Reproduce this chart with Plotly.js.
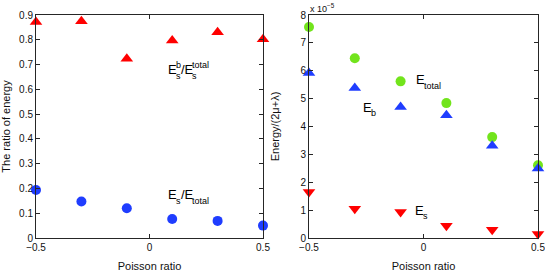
<!DOCTYPE html>
<html><head><meta charset="utf-8">
<script src="https://cdn.plot.ly/plotly-3.0.1.min.js"></script>
<style>html,body{margin:0;padding:0;background:#fff}#c{width:545px;height:274px}</style>
</head><body><div id="c"></div>
<script>
var poisson = [-0.5, -0.3, -0.1, 0.1, 0.3, 0.5];
// left panel: ratios
var ratioBending = [0.872, 0.875, 0.723, 0.797, 0.830, 0.802];
var ratioStretch = [0.194, 0.147, 0.120, 0.077, 0.069, 0.050];
// right panel: energy / (2mu+lambda), in units of 1e-5
var energyTotal = [7.57, 6.45, 5.62, 4.84, 3.62, 2.61];
var energyBend = [5.92, 5.38, 4.70, 4.40, 3.31, 2.49];
var energyStretch = [1.65, 1.05, 0.93, 0.44, 0.30, 0.14];
var leftTicks = [0, 0.1, 0.2, 0.3, 0.4, 0.5, 0.6, 0.7, 0.8, 0.9];
var leftTickText = ['0', '0.1', '0.2', '0.3', '0.4', '0.5', '0.6', '0.7', '0.8', '0.9'];
var rightTicks = [0, 1, 2, 3, 4, 5, 6, 7, 8];
var rightTickText = ['0', '1', '2', '3', '4', '5', '6', '7', '8'];
var xTicks = [-0.5, 0, 0.5];
var xTickText = ['\u22120.5', '0', '0.5'];

var RED = '#ff0000', BLUE = '#1f3dff', GREEN = '#72e41c';
var FONT = 'Liberation Sans, Arial, Helvetica, sans-serif';

function tr(y, color, sym, size, xa, ya) {
  return {x: poisson, y: y, xaxis: xa, yaxis: ya, type: 'scatter', mode: 'markers',
    cliponaxis: false, marker: {color: color, symbol: sym, size: size, line: {width: 0}}};
}
var data = [
  tr(ratioBending, RED, 'triangle-up', 11, 'x', 'y'),
  tr(ratioStretch, BLUE, 'circle', 10, 'x', 'y'),
  tr(energyTotal, GREEN, 'circle', 10, 'x2', 'y2'),
  tr(energyBend, BLUE, 'triangle-up', 11, 'x2', 'y2'),
  tr(energyStretch, RED, 'triangle-down', 11, 'x2', 'y2')
];

function ax(extra) {
  var a = {showgrid: false, zeroline: false, showline: true, linecolor: '#262626', linewidth: 1,
    mirror: 'ticks', ticks: 'inside', ticklen: 4, tickcolor: '#262626', ticklabeloverflow: 'allow',
    tickfont: {family: FONT, size: 10, color: '#111'}, automargin: false, fixedrange: true};
  for (var k in extra) a[k] = extra[k];
  return a;
}
var tf = {family: FONT, size: 11, color: '#111'};

function lab(xr, yr, x, y, text, size, xs, ys) {
  return {xref: xr, yref: yr, x: x, y: y, text: text, showarrow: false, xanchor: 'left', yanchor: 'middle',
    xshift: xs || 0, yshift: ys || 0, font: {family: FONT, size: size, color: '#000'}, borderpad: 0};
}
var ann = [
  // stacked E_s^b / E_s^total
  lab('x', 'y', 0.075, 0.68, 'E', 13, 0, 0),
  lab('x', 'y', 0.075, 0.68, 'b', 9, 8, 5),
  lab('x', 'y', 0.075, 0.68, 's', 9, 8, -6),
  lab('x', 'y', 0.075, 0.68, '/E', 13, 13, 0),
  lab('x', 'y', 0.075, 0.68, 'total', 9, 24, 5),
  lab('x', 'y', 0.075, 0.68, 's', 9, 24, -6),
  // E_s / E_total
  lab('x', 'y', 0.075, 0.174, 'E', 13, 0, 0),
  lab('x', 'y', 0.075, 0.174, 's', 9, 8, -6),
  lab('x', 'y', 0.075, 0.174, '/E', 13, 13, 0),
  lab('x', 'y', 0.075, 0.174, 'total', 9, 24, -6),
  // right panel
  lab('x2', 'y2', -0.035, 5.68, 'E', 13, 0, 0),
  lab('x2', 'y2', -0.035, 5.68, 'total', 9, 8, -6),
  lab('x2', 'y2', -0.268, 4.69, 'E', 13, 0, 0),
  lab('x2', 'y2', -0.268, 4.69, 'b', 9, 8, -6),
  lab('x2', 'y2', -0.041, 0.99, 'E', 13, 0, 0),
  lab('x2', 'y2', -0.041, 0.99, 's', 9, 8, -6),
  // exponent
  {xref: 'paper', yref: 'paper', x: 0.5438, y: 1.031, xanchor: 'left', yanchor: 'middle',
   text: 'x 10<sup>\u22125</sup>', showarrow: false, font: {family: FONT, size: 9, color: '#111'}, borderpad: 0}
];

var layout = {
  width: 545, height: 274, margin: {l: 36, r: 7, t: 15, b: 36},
  paper_bgcolor: '#fff', plot_bgcolor: '#fff', showlegend: false,
  xaxis: ax({domain: [0, 0.4522], range: [-0.5, 0.5], tickvals: xTicks, ticktext: xTickText,
    title: {text: 'Poisson ratio', font: tf, standoff: 10}, anchor: 'y'}),
  yaxis: ax({range: [0, 0.9], tickvals: leftTicks, ticktext: leftTickText,
    title: {text: 'The ratio of energy', font: tf, standoff: 12}, anchor: 'x'}),
  xaxis2: ax({domain: [0.5438, 1], range: [-0.5, 0.5], tickvals: xTicks, ticktext: xTickText,
    title: {text: 'Poisson ratio', font: tf, standoff: 10}, anchor: 'y2'}),
  yaxis2: ax({range: [0, 8], tickvals: rightTicks, ticktext: rightTickText,
    title: {text: 'Energy/(2\u03bc+\u03bb)', font: tf, standoff: 18}, anchor: 'x2'}),
  annotations: ann
};

// make sure every y2 tick label (in particular the top "8") stays visible
function showTopLabel(gd) {
  var found = false, proto = null;
  gd.querySelectorAll('g.y2tick').forEach(function(g) {
    g.style.display = ''; g.removeAttribute('opacity');
    var t = g.querySelector('text');
    if (!t) return;
    t.style.display = ''; t.style.opacity = 1; t.style.visibility = 'visible';
    if (t.textContent === rightTickText[rightTickText.length - 1]) found = true;
    proto = t;
  });
  if (!found && proto) {
    var ya = gd._fullLayout.yaxis2;
    var clone = proto.cloneNode(true);
    clone.textContent = rightTickText[rightTickText.length - 1];
    clone.setAttribute('transform', 'translate(0,' + (ya._offset + ya.l2p(rightTicks[rightTicks.length - 1])) + ')');
    proto.parentNode.parentNode.appendChild(clone);
  }
}
Plotly.newPlot('c', data, layout, {staticPlot: true, displayModeBar: false}).then(function(gd) {
  showTopLabel(gd);
  setTimeout(function() { showTopLabel(gd); }, 50);
});
</script></body></html>
